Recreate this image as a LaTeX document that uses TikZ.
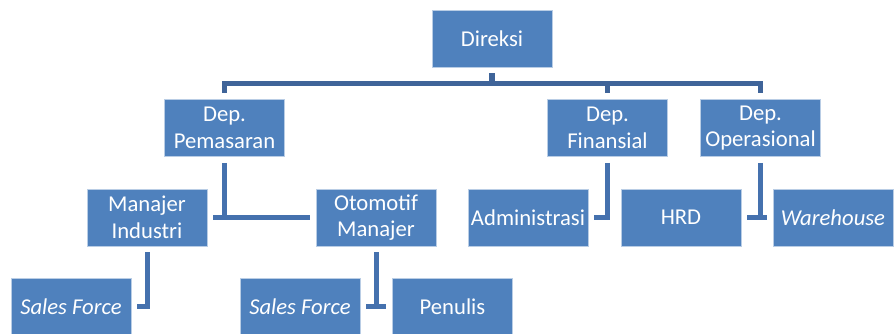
\documentclass[tikz,border=0pt]{standalone}
\usepackage{fontspec}
\setmainfont{Carlito}
\definecolor{orgblue}{HTML}{4F81BD}
\definecolor{orgline}{HTML}{4571AE}
\definecolor{orgdark}{HTML}{3F6499}
\usetikzlibrary{positioning, calc}

\begin{document}
\begin{tikzpicture}[x=0.75pt, y=-0.75pt,
      unit/.style={draw=orgblue!40!white, line width=0.6pt, fill=orgblue,
                   minimum width=90pt, minimum height=42.75pt,
                   inner sep=1pt, text=white, align=center,
                   font=\fontsize{17}{20}\selectfont},
      link/.style={orgline, line width=3.75pt, line cap=butt, line join=miter,
                   shorten <=4.5pt, shorten >=4.5pt},
      toplink/.style={link, orgdark, line width=4.2pt}
    ]
      \useasboundingbox (0,0) rectangle (894,334);

      % top level
      \node[unit] (dir) at (492,38.5) {Direksi};

      % departments
      \node[unit] (pem) at (224.5,128) {Dep.\\Pemasaran};
      \node[unit] (fin) at (607.5,128) {Dep.\\Finansial};
      \node[unit] (ops) at (760.5,128) {Dep.\\Operasional};

      \draw[toplink] (dir.south) -- ++(0,16) -| (pem.north);
      \draw[toplink] (dir.south) -- ++(0,16) -| (fin.north);
      \draw[toplink] (dir.south) -- ++(0,16) -| (ops.north);

      % managers and units
      \node[unit] (mi)  at (147,217.5) {Manajer\\Industri};
      \node[unit] (om)  at (376,217.5) {Otomotif\\Manajer};
      \node[unit] (adm) at (528,217.5) {Administrasi};
      \node[unit] (hrd) at (681,217.5) {HRD};
      \node[unit] (wh)  at (833,217.5) {\itshape Warehouse};

      \draw[link] (pem.south) |- (om.west);
      \draw[link] (mi.east) -- (om.west);
      \draw[link] (fin.south) |- (adm.east);
      \draw[link] (ops.south) |- (wh.west);
      \draw[link] (hrd.east) -- (wh.west);

      % bottom row
      \node[unit] (sf1) at (71,306.5) {\itshape Sales Force};
      \node[unit] (sf2) at (300,306.5) {\itshape Sales Force};
      \node[unit] (pen) at (452.5,306.5) {Penulis};

      \draw[link] (mi.south) |- (sf1.east);
      \draw[link] (om.south) |- (sf2.east);
      \draw[link] (sf2.east) -- (pen.west);
    \end{tikzpicture}
\end{document}
